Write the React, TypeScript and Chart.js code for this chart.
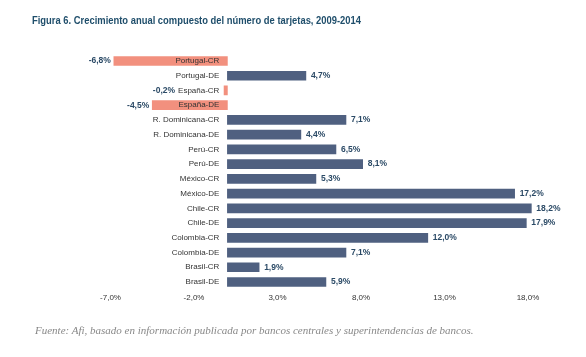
import React, { useEffect, useRef } from "react";
import { Chart, registerables } from "chart.js";

Chart.register(...registerables);

const categories = [
  "Portugal-CR",
  "Portugal-DE",
  "España-CR",
  "España-DE",
  "R. Dominicana-CR",
  "R. Dominicana-DE",
  "Perú-CR",
  "Perú-DE",
  "México-CR",
  "México-DE",
  "Chile-CR",
  "Chile-DE",
  "Colombia-CR",
  "Colombia-DE",
  "Brasil-CR",
  "Brasil-DE",
];

const values = [-6.8, 4.7, -0.2, -4.5, 7.1, 4.4, 6.5, 8.1, 5.3, 17.2, 18.2, 17.9, 12.0, 7.1, 1.9, 5.9];

const tickValues = [-7, -2, 3, 8, 13, 18];

const TITLE = "Figura 6. Crecimiento anual compuesto del número de tarjetas, 2009-2014";
const SOURCE = "Fuente: Afi, basado en información publicada por bancos centrales y superintendencias de bancos.";

const POS_COLOR = "#4f6080";
const NEG_COLOR = "#f2907e";
const LABEL_COLOR = "#2b4a66";
const CAT_FONT = "8px 'Liberation Sans', Arial, sans-serif";
const VAL_FONT = "bold 8.5px 'Liberation Sans', Arial, sans-serif";

const fmt = (v: number, d: number) => v.toFixed(d).replace(".", ",") + "%";

const labelsPlugin = {
  id: "labelsPlugin",
  afterDatasetsDraw(chart: any) {
    const ctx = chart.ctx;
    const meta = chart.getDatasetMeta(0);
    const xScale = chart.scales.x;
    const yScale = chart.scales.y;
    const zeroX = xScale.getPixelForValue(0);
    ctx.save();
    ctx.textBaseline = "middle";
    // category labels at the zero line, drawn over the bars
    ctx.font = CAT_FONT;
    ctx.fillStyle = "#333333";
    ctx.textAlign = "right";
    categories.forEach((c, i) => {
      ctx.fillText(c, zeroX - 8, yScale.getPixelForValue(i));
    });
    meta.data.forEach((bar: any, i: number) => {
      const v = values[i];
      const txt = fmt(v, 1);
      ctx.fillStyle = LABEL_COLOR;
      if (v >= 0) {
        ctx.font = VAL_FONT;
        ctx.textAlign = "left";
        ctx.fillText(txt, bar.x + 5, bar.y);
      } else {
        ctx.font = CAT_FONT;
        const catW = ctx.measureText(categories[i]).width;
        const catLeft = zeroX - 8 - catW;
        const x = Math.min(bar.x, catLeft) - 3;
        ctx.font = VAL_FONT;
        ctx.textAlign = "right";
        ctx.fillText(txt, x, bar.y);
      }
    });
    ctx.restore();
  },
};

export default function App() {
  const ref = useRef<HTMLCanvasElement | null>(null);

  useEffect(() => {
    if (!ref.current) return;
    const chart = new Chart(ref.current, {
      type: "bar",
      data: {
        labels: categories,
        datasets: [
          {
            data: values,
            backgroundColor: values.map((v) => (v < 0 ? NEG_COLOR : POS_COLOR)),
            barThickness: 9,
            borderWidth: 0,
          },
        ],
      },
      options: {
        indexAxis: "y",
        animation: false,
        responsive: false,
        maintainAspectRatio: false,
        layout: { padding: { left: 110.5, right: 24.6, top: 53.6, bottom: 47.6 } },
        plugins: {
          legend: { display: false },
          tooltip: { enabled: false },
          title: { display: false },
        },
        scales: {
          x: {
            type: "linear",
            min: -7,
            max: 20,
            grid: { display: false, drawTicks: false },
            border: { display: false },
            afterBuildTicks: (axis: any) => {
              axis.ticks = tickValues.map((v) => ({ value: v }));
            },
            afterFit: (axis: any) => {
              axis.height = 20;
            },
            ticks: {
              padding: 4,
              autoSkip: false,
              maxRotation: 0,
              color: "#333333",
              font: { family: "'Liberation Sans', Arial, sans-serif", size: 8 },
              callback: (v: any) => fmt(Number(v), 1),
            },
          },
          y: {
            type: "category",
            position: { x: 0 },
            grid: { display: false, drawTicks: false },
            border: { display: false },
            ticks: { display: false },
          },
        },
      },
      plugins: [labelsPlugin],
    });
    return () => chart.destroy();
  }, []);

  return (
    <div style={{ position: "absolute", left: 0, top: 0, width: 586, height: 357, background: "#ffffff" }}>
      <canvas ref={ref} width={586} height={357} style={{ position: "absolute", left: 0, top: 0 }} />
      <div
        style={{
          position: "absolute",
          left: 32,
          top: 13,
          fontFamily: "'Liberation Sans', Arial, sans-serif",
          fontWeight: "bold",
          fontSize: 10.5,
          color: "#1f4e6b",
          whiteSpace: "nowrap",
          lineHeight: "14px",
          transform: "scaleX(0.895)",
          transformOrigin: "left center",
        }}
      >
        {TITLE}
      </div>
      <div
        style={{
          position: "absolute",
          left: 35,
          top: 323,
          fontFamily: "'Liberation Serif', 'Times New Roman', serif",
          fontStyle: "italic",
          fontSize: 11,
          color: "#888888",
          whiteSpace: "nowrap",
          lineHeight: "14px",
        }}
      >
        {SOURCE}
      </div>
    </div>
  );
}
